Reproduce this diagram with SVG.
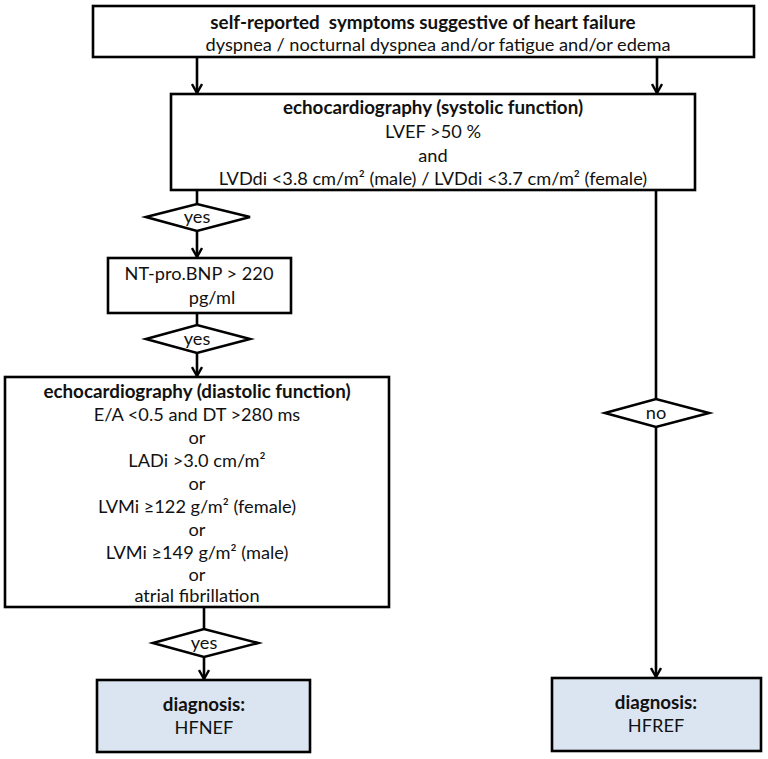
<svg xmlns="http://www.w3.org/2000/svg" width="768" height="759" viewBox="0 0 768 759">
<defs>
<style>
.box{fill:#fff;stroke:#000;stroke-width:2.6}
.dx{fill:#dbe5f1;stroke:#000;stroke-width:2.6}
.dia{fill:#fff;stroke:#000;stroke-width:2.6}
.ln{fill:none;stroke:#000;stroke-width:2.6}
text{font-family:Lato,"Open Sans","Liberation Sans",sans-serif;font-size:18.2px;fill:#111;text-anchor:middle}
.b{font-weight:bold;font-size:18.8px}
</style>
<marker id="arr" viewBox="0 0 12 12" refX="10.5" refY="6" markerWidth="12" markerHeight="12" orient="auto" markerUnits="userSpaceOnUse">
<path d="M1.5,1 L10.5,6 L1.5,11" fill="none" stroke="#000" stroke-width="2.4"/>
</marker>
</defs>
<rect width="768" height="759" fill="#fff"/>
<g id="connectors">
<line class="ln" x1="197" y1="57" x2="197" y2="93" marker-end="url(#arr)"/>
<line class="ln" x1="657" y1="57" x2="657" y2="93" marker-end="url(#arr)"/>
<line class="ln" x1="197" y1="190" x2="197" y2="204"/>
<line class="ln" x1="197" y1="231" x2="197" y2="257" marker-end="url(#arr)"/>
<line class="ln" x1="197" y1="313" x2="197" y2="325"/>
<line class="ln" x1="197" y1="353" x2="197" y2="376" marker-end="url(#arr)"/>
<line class="ln" x1="204" y1="607" x2="204" y2="629"/>
<line class="ln" x1="204" y1="657" x2="204" y2="679" marker-end="url(#arr)"/>
<line class="ln" x1="656" y1="190" x2="656" y2="399"/>
<line class="ln" x1="656" y1="427" x2="656" y2="677" marker-end="url(#arr)"/>
</g>
<g id="symptoms">
<rect class="box" x="93" y="6" width="661" height="51"/>
<text class="b" x="423" y="29" xml:space="preserve">self-reported  symptoms suggestive of heart failure</text>
<text x="438" y="51">dyspnea / nocturnal dyspnea and/or fatigue and/or edema</text>
</g>
<g id="systolic">
<rect class="box" x="171" y="94" width="524" height="96"/>
<text class="b" x="433" y="114">echocardiography (systolic function)</text>
<text x="433" y="138">LVEF &gt;50 %</text>
<text x="433" y="162">and</text>
<text x="433" y="185">LVDdi &lt;3.8 cm/m² (male) / LVDdi &lt;3.7 cm/m² (female)</text>
</g>
<g id="yes1">
<polygon class="dia" points="146,217 197,204 250,217 197,231"/>
<text x="197" y="223">yes</text>
</g>
<g id="ntprobnp">
<rect class="box" x="108" y="258" width="183" height="55"/>
<text x="199" y="280">NT-pro.BNP &gt; 220</text>
<text x="212" y="304">pg/ml</text>
</g>
<g id="yes2">
<polygon class="dia" points="146,339 197,325 250,339 197,353"/>
<text x="197" y="345">yes</text>
</g>
<g id="diastolic">
<rect class="box" x="5" y="377" width="384" height="230"/>
<text class="b" x="197" y="398">echocardiography (diastolic function)</text>
<text x="197" y="421">E/A &lt;0.5 and DT &gt;280 ms</text>
<text x="197" y="444">or</text>
<text x="197" y="467">LADi &gt;3.0 cm/m²</text>
<text x="197" y="490">or</text>
<text x="197" y="513">LVMi ≥122 g/m² (female)</text>
<text x="197" y="536">or</text>
<text x="197" y="559">LVMi ≥149 g/m² (male)</text>
<text x="197" y="581">or</text>
<text x="197" y="602">atrial fibrillation</text>
</g>
<g id="yes3">
<polygon class="dia" points="153,643 204,629 258,643 204,657"/>
<text x="204" y="649">yes</text>
</g>
<g id="no">
<polygon class="dia" points="605,413 656,399 709,413 656,427"/>
<text x="656" y="419">no</text>
</g>
<g id="hfnef">
<rect class="dx" x="97" y="680" width="213" height="72"/>
<text class="b" x="204" y="711">diagnosis:</text>
<text x="204" y="734">HFNEF</text>
</g>
<g id="hfref">
<rect class="dx" x="552" y="678" width="209" height="73"/>
<text class="b" x="656" y="709">diagnosis:</text>
<text x="656" y="732">HFREF</text>
</g>
</svg>
